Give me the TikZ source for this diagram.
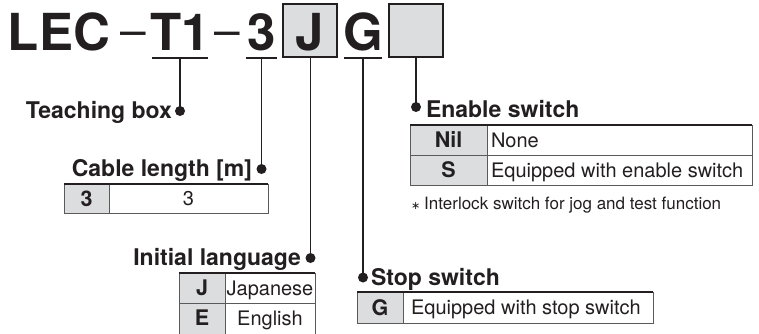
\documentclass[tikz,border=0pt]{standalone}
\usepackage{fontspec}
\setmainfont{TeX Gyre Heros}
\newfontfamily\symfont{DejaVu Sans}
\definecolor{ink}{HTML}{231F20}
\definecolor{cellgray}{HTML}{DCDDDF}
\definecolor{rulegray}{HTML}{5A5A5A}
\begin{document}
\begin{tikzpicture}[x=1pt,y=-1pt,
  every node/.style={inner sep=0pt,outer sep=0pt,text=ink},
  titletxt/.style={font=\fontsize{51}{51}\selectfont\bfseries,anchor=base},
  dashtxt/.style={font=\fontsize{46}{46}\selectfont,anchor=base},
  lbl/.style={font=\fontsize{23}{23}\selectfont\bfseries},
  code/.style={font=\fontsize{21.5}{21.5}\selectfont\bfseries,anchor=base},
  cell/.style={font=\fontsize{20}{20}\selectfont,anchor=base},
  dotn/.style={circle,fill=ink,minimum size=10pt},
  conn/.style={draw=ink,line width=1.5pt},
  uline/.style={draw=ink,line width=1.3pt},
  selbox/.style={draw=ink,fill=cellgray,line width=1.3pt},
  grid/.style={draw=rulegray,line width=0.9pt},
  topline/.style={draw=ink,line width=1.6pt},
  graycell/.style={fill=cellgray}
]
\useasboundingbox (0,0) rectangle (759,333);

% ---- title ----
\node[titletxt,anchor=base west] (lec) at (8,50) {LEC};
\node[dashtxt] (d1) at (133,46) {–};
\node[titletxt] (t1) at (180,50) {T1};
\node[dashtxt] (d2) at (227.5,46) {–};
\node[titletxt] (c3) at (261.5,50) {3};
\draw[selbox] (283,4) rectangle (337,57);
\node[titletxt] (cj) at (310,50) {J};
\node[titletxt] (cg) at (363,50) {G};
\draw[selbox] (389,4) rectangle (443,57);

% underlines
\draw[uline] (152,58) -- (208,58);
\draw[uline] (246,58) -- (277,58);
\draw[uline] (344,58) -- (382,58);

% connector tops
\coordinate (uT) at (180,58);
\coordinate (u3) at (261.5,58);
\coordinate (uJ) at (310.5,57);
\coordinate (uG) at (363,58);
\coordinate (uE) at (416,57);

% dots
\node[dotn] (dT) at (180,111) {};
\node[dotn] (d3) at (261.5,169) {};
\node[dotn] (dJ) at (310.5,258) {};
\node[dotn] (dG) at (363,277.5) {};
\node[dotn] (dE) at (416,107) {};

\draw[conn] (uT) -- (dT.center);
\draw[conn] (u3) -- (d3.center);
\draw[conn] (uJ) -- (dJ.center);
\draw[conn] (uG) -- (dG.center);
\draw[conn] (uE) -- (dE.center);

% labels
\node[lbl,anchor=base east] (lT) at (172,118) {Teaching box};
\node[lbl,anchor=base east] (l3) at (252,176) {Cable length [m]};
\node[lbl,anchor=base east] (lJ) at (301,265) {Initial language};
\node[lbl,anchor=base west] (lG) at (371,285) {Stop switch};
\node[lbl,anchor=base west] (lE) at (426,117) {Enable switch};

% ---- cable length table ----
\fill[graycell] (64,184) rectangle (109,213);
\draw[grid] (64,184) rectangle (268,213);
\draw[grid] (109,184) -- (109,213);
\draw[topline] (64,184) -- (268,184);
\node[code] (k3) at (86.5,206) {3};
\node[cell] (v3) at (188.5,205.5) {3};

% ---- initial language table ----
\fill[graycell] (179,273) rectangle (225,334);
\draw[grid] (179,273) -- (179,334);
\draw[grid] (315,273) -- (315,334);
\draw[grid] (225,273) -- (225,334);
\draw[grid] (179,303) -- (315,303);
\draw[topline] (179,273) -- (315,273);
\node[code] (kJ) at (202,295.5) {J};
\node[cell] (vJ) at (270,295) {Japanese};
\node[code] (kE) at (202,325.5) {E};
\node[cell] (vE) at (270,325) {English};

% ---- stop switch table ----
\fill[graycell] (357,292) rectangle (403,323);
\draw[grid] (357,292) rectangle (653,323);
\draw[grid] (403,292) -- (403,323);
\draw[topline] (357,292) -- (653,292);
\node[code] (kG) at (380,315.2) {G};
\node[cell,anchor=base west] (vG) at (411,314.7) {Equipped with stop switch};

% ---- enable switch table ----
\fill[graycell] (410,125) rectangle (487,185);
\draw[grid] (410,125) rectangle (752,185);
\draw[grid] (487,125) -- (487,185);
\draw[grid] (410,155) -- (752,155);
\draw[topline] (410,125) -- (752,125);
\node[code] (kN) at (448.5,147.5) {Nil};
\node[cell,anchor=base west] (vN) at (491,147) {None};
\node[code] (kS) at (448.5,177.5) {S};
\node[cell,anchor=base west] (vS) at (491,177) {Equipped with enable switch};

% note
\node[anchor=base west,font=\fontsize{17}{17}\selectfont] (note) at (411,209)
  {{\symfont\fontsize{11}{11}\selectfont ∗}\hspace{4pt}Interlock switch for jog and test function};
\end{tikzpicture}
\end{document}
